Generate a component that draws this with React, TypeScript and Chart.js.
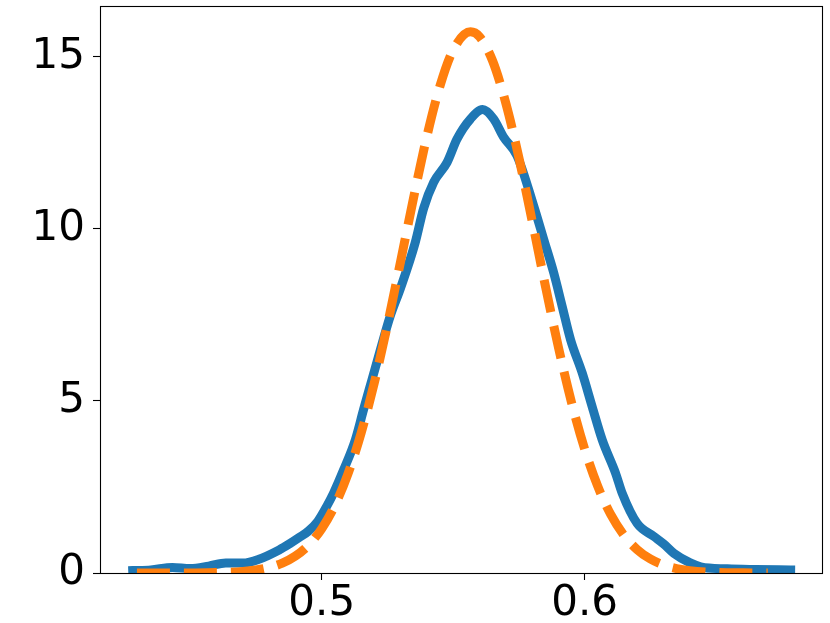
import React, { useEffect, useRef } from "react";
import { Chart, registerables } from "chart.js";

Chart.register(...registerables);

// Blue curve (KDE)
const kdeX = [
  0.4281, 0.435, 0.4432, 0.45, 0.457, 0.4635, 0.47, 0.4761, 0.4838, 0.488,
  0.4914, 0.495, 0.4985, 0.502, 0.5045, 0.5083, 0.5128, 0.5159, 0.5191, 0.5223,
  0.526, 0.53, 0.5355, 0.5388, 0.5426, 0.5477, 0.5515, 0.5566, 0.5612, 0.5654,
  0.5692, 0.5743, 0.5807, 0.5845, 0.5883, 0.5915, 0.5947, 0.5991, 0.6029, 0.6067,
  0.6118, 0.6143, 0.62, 0.6264, 0.63, 0.634, 0.64, 0.6442, 0.6543, 0.665, 0.6784,
];
const kdeY = [
  0.07, 0.09, 0.16, 0.13, 0.2, 0.29, 0.29, 0.4, 0.67, 0.86,
  1.03, 1.22, 1.5, 1.95, 2.32, 2.99, 3.87, 4.74, 5.61, 6.48,
  7.45, 8.28, 9.58, 10.6, 11.35, 11.93, 12.61, 13.19, 13.46, 13.19,
  12.66, 12.12, 10.65, 9.68, 8.71, 7.74, 6.77, 5.81, 4.83, 3.87,
  2.9, 2.32, 1.44, 1.06, 0.85, 0.57, 0.3, 0.18, 0.12, 0.1, 0.09,
];

// Orange dashed curve (normal fit)
const fitX = [
  0.4297, 0.44, 0.45, 0.46, 0.47, 0.475, 0.48, 0.485, 0.49, 0.495,
  0.5, 0.505, 0.51, 0.515, 0.52, 0.525, 0.53, 0.535, 0.54, 0.545,
  0.55, 0.5566, 0.56, 0.565, 0.57, 0.575, 0.58, 0.585, 0.59, 0.595,
  0.6, 0.605, 0.61, 0.615, 0.62, 0.625, 0.63, 0.635, 0.64, 0.65, 0.66, 0.6697,
];
const fitY = [
  0.0, 0.0004, 0.0022, 0.011, 0.045, 0.087, 0.161, 0.286, 0.492, 0.811,
  1.287, 1.963, 2.883, 4.068, 5.522, 7.206, 9.045, 10.92, 12.68, 14.15,
  15.19, 15.72, 15.58, 14.88, 13.66, 12.07, 10.25, 8.372, 6.576, 4.967,
  3.609, 2.522, 1.694, 1.095, 0.681, 0.407, 0.234, 0.129, 0.069, 0.017, 0.0037, 0.0007,
];

const xTicks = [0.5, 0.6];
const xTickLabels = ["0.5", "0.6"];
const yTicks = [0, 5, 10, 15];
const yTickLabels = ["0", "5", "10", "15"];

const xMin = 0.41565;
const xMax = 0.69033;
const yMin = 0;
const yMax = 16.47;

const framePlugin = {
  id: "frame",
  afterDraw(chart: any) {
    const { ctx, chartArea } = chart;
    ctx.save();
    ctx.strokeStyle = "#000";
    ctx.lineWidth = 1.1;
    ctx.strokeRect(
      Math.round(chartArea.left) + 0.5,
      Math.round(chartArea.top) + 0.5,
      Math.round(chartArea.right - chartArea.left),
      Math.round(chartArea.bottom - chartArea.top)
    );
    ctx.restore();
  },
};

export default function App() {
  const ref = useRef<HTMLCanvasElement | null>(null);

  useEffect(() => {
    if (!ref.current) return;
    const font = { family: "'DejaVu Sans', sans-serif", size: 42 };
    const chart = new Chart(ref.current, {
      type: "line",
      data: {
        datasets: [
          {
            label: "fit",
            data: fitX.map((x, i) => ({ x, y: fitY[i] })),
            borderColor: "#ff7f0e",
            borderWidth: 9,
            borderDash: [33, 14],
            borderCapStyle: "butt",
            pointRadius: 0,
            fill: false,
            cubicInterpolationMode: "monotone",
            clip: 0,
          },
          {
            label: "kde",
            data: kdeX.map((x, i) => ({ x, y: kdeY[i] })),
            borderColor: "#1f77b4",
            borderWidth: 9,
            borderCapStyle: "square",
            pointRadius: 0,
            fill: false,
            cubicInterpolationMode: "monotone",
            clip: 0,
          },
        ],
      },
      options: {
        animation: false,
        responsive: true,
        maintainAspectRatio: false,
        layout: { padding: { top: 6, right: 8, left: 0, bottom: 0 } },
        plugins: { legend: { display: false }, tooltip: { enabled: false } },
        scales: {
          x: {
            type: "linear",
            min: xMin,
            max: xMax,
            afterBuildTicks: (axis: any) => {
              axis.ticks = xTicks.map((v) => ({ value: v }));
            },
            afterFit: (axis: any) => {
              axis.height = 50;
              axis.paddingLeft = 0;
              axis.paddingRight = 0;
            },
            ticks: {
              font,
              color: "#000",
              padding: -1,
              maxRotation: 0,
              autoSkip: false,
              callback: (v: any) => {
                const i = xTicks.findIndex((t) => Math.abs(t - Number(v)) < 1e-9);
                return i >= 0 ? xTickLabels[i] : "";
              },
            },
            grid: {
              display: true,
              drawOnChartArea: false,
              drawTicks: true,
              tickLength: 7,
              tickColor: "#000",
              tickWidth: 1.1,
            },
            border: { display: false },
          },
          y: {
            type: "linear",
            min: yMin,
            max: yMax,
            afterBuildTicks: (axis: any) => {
              axis.ticks = yTicks.map((v) => ({ value: v }));
            },
            afterFit: (axis: any) => {
              axis.width = 100;
              axis.paddingTop = 0;
              axis.paddingBottom = 0;
            },
            ticks: {
              font,
              color: "#000",
              padding: 8,
              autoSkip: false,
              callback: (v: any) => {
                const i = yTicks.findIndex((t) => Math.abs(t - Number(v)) < 1e-9);
                return i >= 0 ? yTickLabels[i] : "";
              },
            },
            grid: {
              display: true,
              drawOnChartArea: false,
              drawTicks: true,
              tickLength: 7,
              tickColor: "#000",
              tickWidth: 1.1,
            },
            border: { display: false },
          },
        },
      },
      plugins: [framePlugin],
    } as any);
    return () => chart.destroy();
  }, []);

  return (
    <div
      style={{
        position: "absolute",
        left: 0,
        top: 0,
        width: 830,
        height: 623,
        background: "#fff",
      }}
    >
      <canvas ref={ref} />
    </div>
  );
}
